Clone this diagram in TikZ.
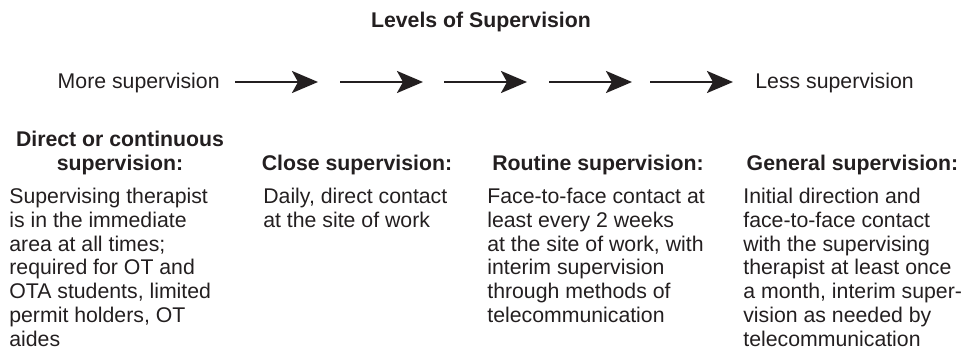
\documentclass[tikz,border=0pt]{standalone}
\usepackage{fontspec}
\setmainfont{Liberation Sans}
\usetikzlibrary{arrows.meta,positioning}
\definecolor{supink}{HTML}{231F20}

\begin{document}
\begin{tikzpicture}[
  font=\fontsize{12.1}{13.55}\selectfont,
  text=supink,
  flow/.style={draw=supink, line width=1.3pt,
    -{Stealth[length=0.52cm, width=0.44cm, inset=0.12cm]}},
  head/.style={font=\fontsize{12.1}{13.55}\selectfont\bfseries, align=center,
    inner sep=0pt, anchor=base},
  body/.style={align=left, inner sep=0pt, anchor=base west},
]
\useasboundingbox (0,0) rectangle (19.28,-7.04);

\node[head] (title) at (9.62,-0.54) {Levels of Supervision};

% scale from more to less supervision
\node[inner sep=0pt, anchor=base east] (more) at (4.40,-1.77) {More supervision};
\node[inner sep=0pt, anchor=base west] (less) at (15.10,-1.77) {Less supervision};
\coordinate (a1) at (4.70,-1.64);  \coordinate (b1) at (6.36,-1.64);
\coordinate (a2) at (6.80,-1.64);  \coordinate (b2) at (8.46,-1.64);
\coordinate (a3) at (8.88,-1.64);  \coordinate (b3) at (10.54,-1.64);
\coordinate (a4) at (10.98,-1.64); \coordinate (b4) at (12.64,-1.64);
\coordinate (a5) at (13.00,-1.64); \coordinate (b5) at (14.66,-1.64);
\draw[flow] (a1) -- (b1);
\draw[flow] (a2) -- (b2);
\draw[flow] (a3) -- (b3);
\draw[flow] (a4) -- (b4);
\draw[flow] (a5) -- (b5);

% the four levels (base = last line)
\node[head] (direct) at (2.40,-3.40) {Direct or continuous\\supervision:};
\node[head] (close) at (7.14,-3.40) {Close supervision:};
\node[head] (routine) at (11.96,-3.40) {Routine supervision:};
\node[head] (general) at (17.05,-3.40) {General supervision:};

\node[body] (directtxt) at (0.18,-6.926) {Supervising therapist\\is in the immediate\\area at all times;\\required for OT and\\OTA students, limited\\permit holders, OT\\aides};
\node[body] (closetxt) at (5.26,-4.546) {Daily, direct contact\\at the site of work};
\node[body] (routinetxt) at (9.74,-6.45) {Face-to-face contact at\\least every 2 weeks\\at the site of work, with\\interim supervision\\through methods of\\telecommunication};
\node[body] (generaltxt) at (14.86,-6.926) {Initial direction and\\face-to-face contact\\with the supervising\\therapist at least once\\a month, interim super-\\vision as needed by\\telecommunication};
\end{tikzpicture}
\end{document}
